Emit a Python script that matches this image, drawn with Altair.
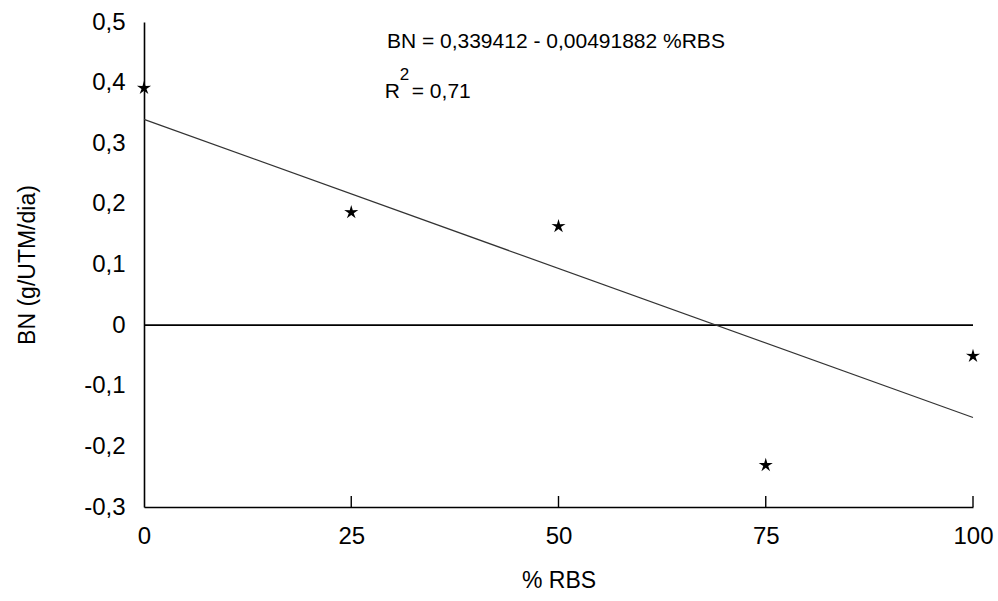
import altair as alt
import pandas as pd

# Observed points (% RBS, BN)
rbs = [0, 25, 50, 75, 100]
bn = [0.391, 0.186, 0.163, -0.231, -0.051]

# Regression coefficients (from the equation printed on the chart)
intercept = 0.339412
slope = -0.00491882
line_x = [0, 100]

x_ticks = [0, 25, 50, 75, 100]
y_ticks = [0.5, 0.4, 0.3, 0.2, 0.1, 0.0, -0.1, -0.2, -0.3]

FONT = "Liberation Sans"

pts = pd.DataFrame({"rbs": rbs, "bn": bn})
reg = pd.DataFrame({"rbs": line_x, "bn": [intercept + slope * v for v in line_x]})
zero = pd.DataFrame({"rbs": [0], "rbs2": [100], "bn": [0.0]})
tks = pd.DataFrame({"rbs": x_ticks[1:]})

xs = alt.Scale(domain=[0, 100], nice=False, zero=False)
ys = alt.Scale(domain=[-0.3, 0.5], nice=False, zero=False)

ylabel = ("datum.value == 0 ? '0' : (datum.value < 0 ? '-' : '') + "
          "replace(format(abs(datum.value), '.1f'), '.', ',')")

base_x = alt.X("rbs:Q", scale=xs, title="% RBS",
               axis=alt.Axis(values=x_ticks, ticks=False, grid=False,
                             labelFlush=False, labelOverlap=False,
                             labelPadding=17, titlePadding=21,
                             domainColor="black", domainWidth=1.6,
                             labelFontSize=24, titleFontSize=23,
                             labelColor="black", titleColor="black",
                             labelFont=FONT, titleFont=FONT,
                             titleFontWeight="normal"))
base_y = alt.Y("bn:Q", scale=ys, title="BN (g/UTM/dia)",
               axis=alt.Axis(values=y_ticks, ticks=False, grid=False,
                             labelFlush=False, labelOverlap=False,
                             labelExpr=ylabel, labelPadding=19, titlePadding=44,
                             domainColor="black", domainWidth=1.6,
                             labelFontSize=24, titleFontSize=23,
                             labelColor="black", titleColor="black",
                             labelFont=FONT, titleFont=FONT,
                             titleFontWeight="normal"))

star_path = ("M0,-1L0.206,-0.283L0.951,-0.309L0.333,0.108L0.588,0.809"
             "L0,0.35L-0.588,0.809L-0.333,0.108L-0.951,-0.309L-0.206,-0.283Z")

points = alt.Chart(pts).mark_point(shape=star_path, filled=True, size=220,
                                   color="black", opacity=1).encode(
    x=base_x, y=base_y)

reg_line = alt.Chart(reg).mark_line(color="#333333", strokeWidth=1.2).encode(
    x=alt.X("rbs:Q", scale=xs), y=alt.Y("bn:Q", scale=ys))

zero_line = alt.Chart(zero).mark_rule(color="black", strokeWidth=1.7).encode(
    x=alt.X("rbs:Q", scale=xs), x2="rbs2:Q", y=alt.Y("bn:Q", scale=ys))

ticks = alt.Chart(tks).mark_rule(color="black", strokeWidth=1.4).encode(
    x=alt.X("rbs:Q", scale=xs), y=alt.value(474), y2=alt.value(485))

ann = pd.DataFrame({
    "rbs": [29.3, 29.05, 30.85, 32.3],
    "bn": [0.457, 0.3746, 0.404, 0.3746],
    "txt": ["BN = 0,339412 - 0,00491882 %RBS", "R", "2", "= 0,71"],
    "size": [21, 21, 17, 21],
})
annot = alt.Chart(ann).mark_text(align="left", baseline="alphabetic", font=FONT,
                                 color="black").encode(
    x=alt.X("rbs:Q", scale=xs), y=alt.Y("bn:Q", scale=ys), text="txt:N",
    size=alt.Size("size:Q", scale=None, legend=None))

chart = alt.layer(zero_line, reg_line, ticks, points, annot).properties(
    width=829, height=485,
    autosize=alt.AutoSizeParams(type="none"),
    padding={"left": 144, "top": 22, "right": 25, "bottom": 94},
    background="white",
).configure_view(stroke=None)

chart.save("out.html", embed_options={"renderer": "svg", "actions": False})
